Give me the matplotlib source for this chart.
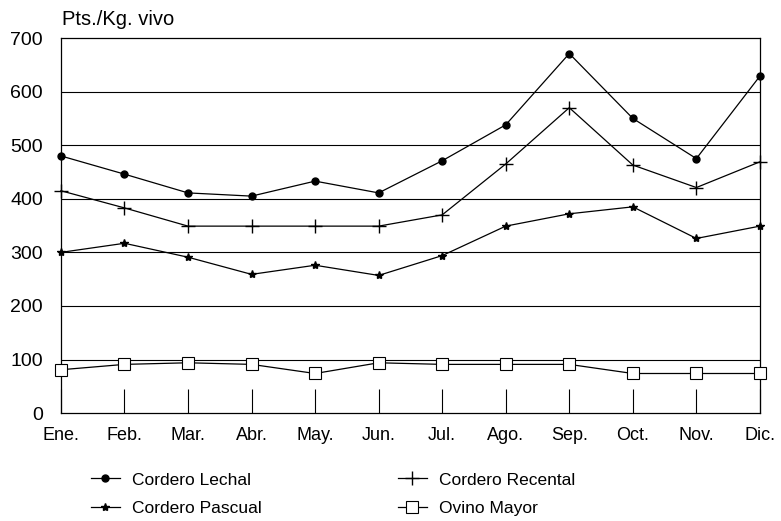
import matplotlib.pyplot as plt
import numpy as np

plt.rcParams['font.family'] = ['Liberation Sans', 'DejaVu Sans']

meses = ['Ene.', 'Feb.', 'Mar.', 'Abr.', 'May.', 'Jun.', 'Jul.', 'Ago.', 'Sep.', 'Oct.', 'Nov.', 'Dic.']
lechal = [480, 446, 411, 405, 433, 411, 471, 538, 671, 550, 475, 629]
recental = [415, 383, 349, 349, 349, 349, 370, 465, 570, 463, 421, 469]
pascual = [300, 317, 291, 259, 276, 257, 294, 349, 372, 385, 326, 349]
ovino = [81, 91, 94, 91, 74, 94, 91, 91, 91, 74, 74, 74]

x = np.arange(len(meses))

fig = plt.figure(figsize=(7.81, 5.21), dpi=100)
ax = fig.add_axes([0.078, 0.207, 0.895, 0.72])

for v in [100, 200, 300, 400, 500, 600]:
    ax.axhline(v, color='black', lw=0.8, zorder=1)

ax.plot(x, lechal, color='black', lw=0.9, marker='o', ms=5, clip_on=False, label='Cordero Lechal', zorder=3)
ax.plot(x, pascual, color='black', lw=0.9, marker='*', ms=6, clip_on=False, label='Cordero Pascual', zorder=3)
ax.plot(x, recental, color='black', lw=0.9, marker='+', ms=10, mew=1.0, clip_on=False, label='Cordero Recental', zorder=3)
ax.plot(x, ovino, color='black', lw=0.9, marker='s', ms=8, mfc='white', mew=0.8, clip_on=False, label='Ovino Mayor', zorder=3)

ax.set_xlim(0, 11)
ax.set_ylim(0, 700)
ax.set_yticks([0, 100, 200, 300, 400, 500, 600, 700])
ax.tick_params(axis='y', length=0, labelsize=14, pad=13)
ax.set_xticks(x)
ax.set_xticklabels(meses)
ax.tick_params(axis='x', direction='in', length=17, width=0.8, labelsize=13, pad=10)
for s in ax.spines.values():
    s.set_linewidth(0.9)

fig.text(0.079, 0.945, 'Pts./Kg. vivo', fontsize=14.5, ha='left', va='bottom')

fig.legend(loc='upper left', bbox_to_anchor=(0.105, 0.11), ncol=2, frameon=False,
           fontsize=12.5, columnspacing=7.8, handlelength=1.7,
           handletextpad=0.7, labelspacing=0.75, borderpad=0)

fig.savefig('out.png', dpi=100)
